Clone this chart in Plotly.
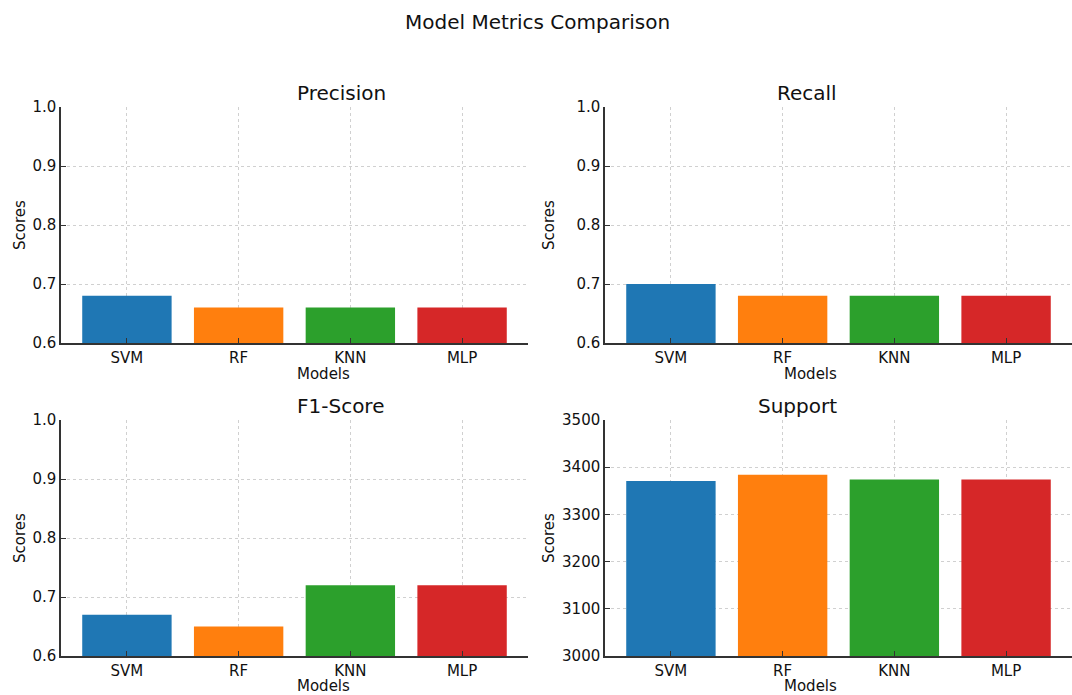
import plotly.graph_objects as go

models = ["SVM", "RF", "KNN", "MLP"]
precision = [0.68, 0.66, 0.66, 0.66]
recall = [0.70, 0.68, 0.68, 0.68]
f1_score = [0.67, 0.65, 0.72, 0.72]
support = [3371, 3384, 3374, 3374]
colors = ["#1f77b4", "#ff7f0e", "#2ca02c", "#d62728"]
titles = ["Precision", "Recall", "F1-Score", "Support"]
score_ticks = [0.6, 0.7, 0.8, 0.9, 1.0]
score_labels = ["0.6", "0.7", "0.8", "0.9", "1.0"]
support_ticks = [3000, 3100, 3200, 3300, 3400, 3500]
support_labels = ["3000", "3100", "3200", "3300", "3400", "3500"]

W, H = 1072, 695
FONT = "DejaVu Sans"

panels = [
    (precision, (61, 528), (107, 343), [0.6, 1.0], score_ticks, score_labels),
    (recall, (605, 1072), (107, 343), [0.6, 1.0], score_ticks, score_labels),
    (f1_score, (61, 528), (420, 656), [0.6, 1.0], score_ticks, score_labels),
    (support, (605, 1072), (420, 656), [3000, 3500], support_ticks, support_labels),
]

fig = go.Figure()
annotations = []
layout = {}
for i, (vals, (x0, x1), (y0, y1), yr, tv, tt) in enumerate(panels):
    n = "" if i == 0 else str(i + 1)
    fig.add_trace(go.Bar(x=list(range(len(models))), y=vals, marker=dict(color=colors, line=dict(width=0)),
                         width=0.8, xaxis="x" + n, yaxis="y" + n, showlegend=False))
    common = dict(
        ticks="inside", ticklen=5, tickcolor="#333", tickwidth=1.2,
        showline=True, linecolor="#333", linewidth=1.5,
        showgrid=True, gridcolor="#d0d0d0", griddash="3px,3px", gridwidth=1, zeroline=False,
        tickfont=dict(family=FONT, size=15, color="#111"), layer="above traces", automargin=False,
    )
    layout["xaxis" + n] = dict(
        domain=[x0 / W, x1 / W], anchor="y" + n, range=[-0.59, 3.59],
        tickvals=list(range(len(models))), ticktext=models, **common,
    )
    layout["yaxis" + n] = dict(
        domain=[1 - y1 / H, 1 - y0 / H], anchor="x" + n, range=yr,
        tickvals=tv, ticktext=tt, **common,
    )
    cx = (x0 + x1) / 2 / W
    annotations.append(dict(text=titles[i], x=cx, y=1 - (y0 - 14) / H, xref="paper", yref="paper",
                            showarrow=False, font=dict(family=FONT, size=20, color="#111"), yanchor="middle"))
    my = y1 + 31 if y1 < 400 else y1 + 30
    annotations.append(dict(text="Models", x=cx, y=1 - my / H, xref="paper", yref="paper",
                            showarrow=False, font=dict(family=FONT, size=15, color="#111"), yanchor="middle"))
    sx = 20 if x0 < 300 else 549
    annotations.append(dict(text="Scores", x=sx / W, y=1 - (y0 + y1) / 2 / H, xref="paper", yref="paper",
                            showarrow=False, textangle=-90, font=dict(family=FONT, size=15, color="#111"),
                            xanchor="center", yanchor="middle"))

annotations.append(dict(text="Model Metrics Comparison", x=537 / W, y=1 - 22 / H, xref="paper", yref="paper",
                        showarrow=False, font=dict(family=FONT, size=20, color="#111"), yanchor="middle"))

fig.update_layout(
    width=W, height=H, autosize=False, margin=dict(l=0, r=0, t=0, b=0, pad=0, autoexpand=False),
    paper_bgcolor="white", plot_bgcolor="white",
    annotations=annotations, bargap=0.2, **layout,
)
fig.write_html("out.html", config={"displayModeBar": False, "responsive": False},
               post_script="document.body.style.margin='0';document.body.style.overflow='hidden';")
